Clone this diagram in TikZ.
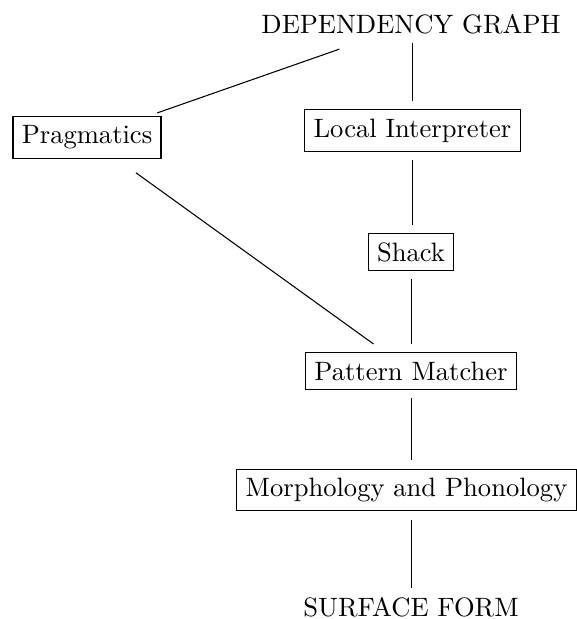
\documentclass[tikz,border=0pt]{standalone}
\usetikzlibrary{positioning}
\tikzset{
  module/.style={draw, inner sep=3.3pt},
  label text/.style={inner sep=0pt},
  link/.style={shorten >=0.11cm, shorten <=0.11cm}
}
\begin{document}
\begin{tikzpicture}
\useasboundingbox (0,0) rectangle (7.632,8.188);
%
\node[label text] (dg)    at (5.437,7.870) {DEPENDENCY GRAPH};
\node[module]     (prag)  at (1.151,6.369) {Pragmatics};
\node[module]     (local) at (5.456,6.462) {Local Interpreter};
\node[module]     (shack) at (5.437,4.854) {Shack};
\node[module]     (pm)    at (5.437,3.280) {Pattern Matcher};
\node[module]     (morph) at (5.377,1.706) {Morphology and Phonology};
\node[label text] (sf)    at (5.437,0.159) {SURFACE FORM};

\draw[link, shorten <=0.14cm, shorten >=0.59cm] (prag) -- (dg);
\draw[link] (dg.south -| local) -- (local);
\draw[link] (local) -- (local.south |- shack.north);
\draw[link] (shack) -- (pm);
\draw[link, shorten <=0.32cm, shorten >=0.19cm] (prag) -- (pm);
\draw[link] (pm) -- (pm.south |- morph.north);
\draw[link] (pm.south |- morph.south) -- (sf);
%
\end{tikzpicture}
\end{document}
